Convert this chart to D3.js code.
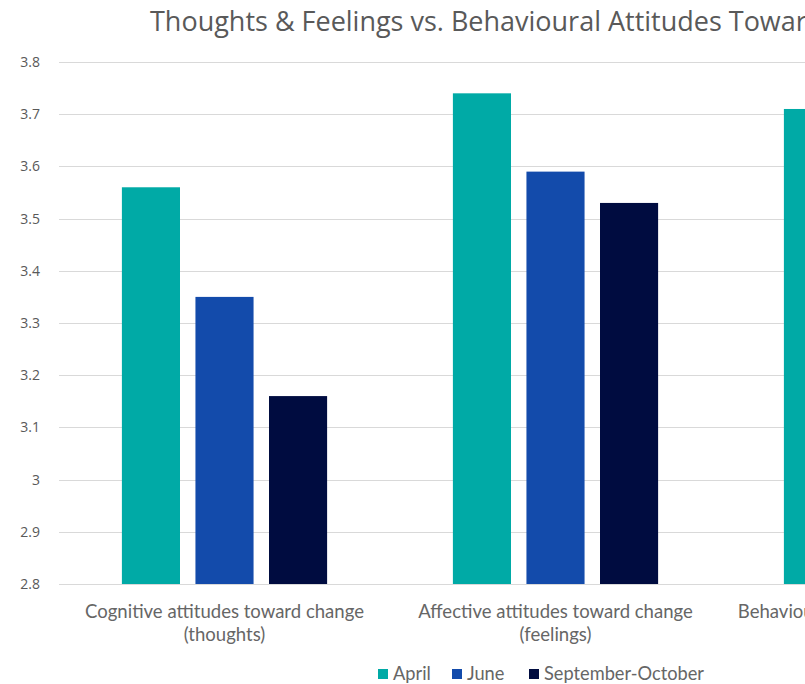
<!DOCTYPE html>
<html><head><meta charset="utf-8">
<script src="https://cdn.jsdelivr.net/npm/d3@7"></script>
<style>body{margin:0;background:#fff;overflow:hidden}svg{display:block}text{font-family:"Open Sans","Noto Sans",sans-serif}</style>
</head><body>
<script>
const title = "Thoughts & Feelings vs. Behavioural Attitudes Toward Change";
const categories = [
  ["Cognitive attitudes toward change", "(thoughts)"],
  ["Affective attitudes toward change", "(feelings)"],
  ["Behavioural attitudes toward change", "(actions)"]
];
const series = ["April", "June", "September-October"];
const april = [3.56, 3.74, 3.71];
const june = [3.35, 3.59, null];
const septOct = [3.16, 3.53, null];
const yTicks = [2.8, 2.9, 3.0, 3.1, 3.2, 3.3, 3.4, 3.5, 3.6, 3.7, 3.8];
const colors = ["#00aaa6", "#134bab", "#000c40"];

const W = 805, H = 684;
const svg = d3.select("body").append("svg").attr("width", W).attr("height", H);

function fitSize(str, family, target) {
  const tmp = svg.append("text").style("font-size", "20px").style("font-family", family).text(str);
  const w = tmp.node().getComputedTextLength(); tmp.remove();
  return 20 * target / w;
}

const catKeys = categories.map(c => c[0]);
const x0 = d3.scaleBand().domain(catKeys).range([59, 1052]).paddingInner(0.38).paddingOuter(0.19);
const x1 = d3.scaleBand().domain(series).range([0, x0.bandwidth()]).paddingInner(0.21).paddingOuter(0);
const y = d3.scaleLinear().domain([2.8, 3.8]).range([584, 62]);

// gridlines
svg.append("g").selectAll("line").data(yTicks).join("line")
  .attr("x1", 59).attr("x2", W).attr("y1", d => Math.round(y(d)) + 0.5).attr("y2", d => Math.round(y(d)) + 0.5)
  .attr("stroke", "#d9d9d9").attr("stroke-width", 1);

// y axis labels
const yAxis = d3.axisLeft(y).tickValues(yTicks).tickSize(0).tickPadding(0).tickFormat(d => String(+d.toFixed(1)));
const ya = svg.append("g").attr("transform", "translate(40,0)").call(yAxis);
ya.select(".domain").remove();
ya.selectAll("text").attr("fill", "#595959").style("font-size", "14px").style("font-family", '"Open Sans",sans-serif');

// bars
const seriesVals = [april, june, septOct];
const rows = [];
catKeys.forEach((c, i) => series.forEach((s, j) => {
  const v = seriesVals[j][i];
  if (v != null) rows.push({ c, s, v, j });
}));
svg.append("g").selectAll("rect").data(rows).join("rect")
  .attr("x", d => x0(d.c) + x1(d.s)).attr("width", x1.bandwidth())
  .attr("y", d => y(d.v)).attr("height", d => y(2.8) - y(d.v))
  .attr("fill", d => colors[d.j]);

// category labels
const labFam = 'Lato,"Open Sans",sans-serif';
const labSize = fitSize(categories[0][0], labFam, 279);
const xl = svg.append("g").selectAll("text").data(categories).join("text")
  .attr("x", (d, i) => x0(catKeys[i]) + x0.bandwidth() / 2)
  .attr("text-anchor", "middle").attr("fill", "#666666")
  .style("font-family", labFam).style("font-size", labSize + "px");
xl.append("tspan").attr("y", 618).text(d => d[0]);
xl.append("tspan").attr("y", 641).attr("x", (d, i) => x0(catKeys[i]) + x0.bandwidth() / 2).text(d => d[1]);

// title
const titleFam = '"Open Sans",sans-serif';
const tSize = fitSize(title.slice(0, 51), titleFam, 657);
svg.append("text").attr("x", 150).attr("y", 31).attr("fill", "#595959")
  .style("font-family", titleFam).style("font-size", tSize + "px").text(title);

// legend
const legSize = fitSize("September-October", labFam, 160);
const legX = [378, 452, 529];
const lg = svg.append("g").selectAll("g").data(series).join("g")
  .attr("transform", (d, i) => `translate(${legX[i]},669)`);
lg.append("rect").attr("width", 10).attr("height", 10).attr("fill", (d, i) => colors[i]);
lg.append("text").attr("x", 15).attr("y", 11).attr("fill", "#666666")
  .style("font-family", labFam).style("font-size", legSize + "px").text(d => d);
</script>
</body></html>
